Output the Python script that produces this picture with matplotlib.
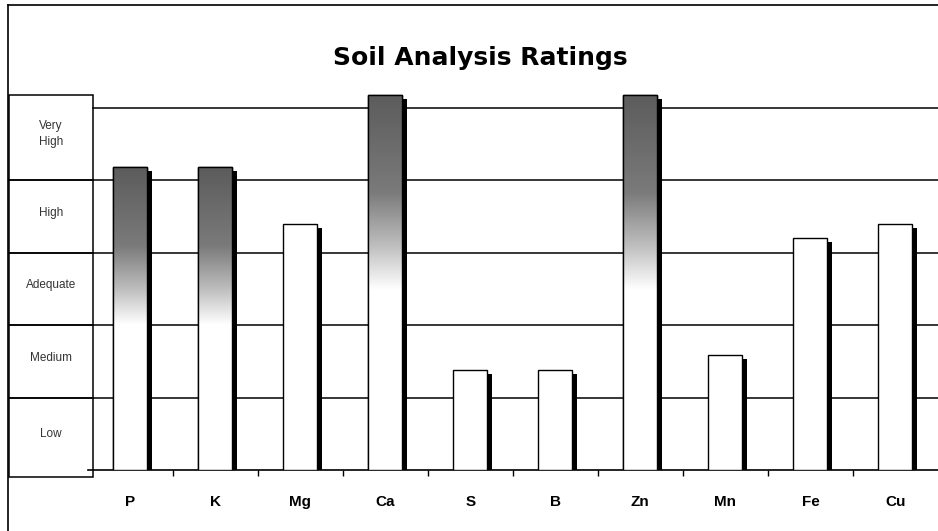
import numpy as np
import matplotlib
matplotlib.use("Agg")
from matplotlib import pyplot as plt
from matplotlib.patches import Rectangle
import matplotlib.transforms as mtransforms
from matplotlib.colors import LinearSegmentedColormap

# data (rating scale 0-5, 1 unit per band)
nutrients = ["P", "K", "Mg", "Ca", "S", "B", "Zn", "Mn", "Fe", "Cu"]
ratings = [4.18, 4.18, 3.40, 5.18, 1.38, 1.38, 5.18, 1.59, 3.20, 3.40]
shaded = ["P", "K", "Ca", "Zn"]
levels = ["Low", "Medium", "Adequate", "High", "Very\nHigh"]
level_edges = [-0.10, 1, 2, 3, 4, 5.18]

W, H = 938, 531
fig = plt.figure(figsize=(W / 100, H / 100), dpi=100)

# main axes: 0 at y=470px, 5 at y=108px
unit = (470 - 108) / 5.0
ymax = 5.35
bottom_px, top_px = 470, 470 - ymax * unit
left_px, right_px = 87.5, 938
ax = fig.add_axes([left_px / W, 1 - bottom_px / H, (right_px - left_px) / W, (bottom_px - top_px) / H])
ax.set_xlim(-0.5, len(nutrients) - 0.5)
ax.set_ylim(0, ymax)
for s in ["top", "right", "left"]:
    ax.spines[s].set_visible(False)
ax.spines["bottom"].set_linewidth(1.2)
ax.set_yticks([])

# horizontal band lines
x0 = (93 - left_px) / (right_px - left_px)
for lv in range(1, 6):
    ax.axhline(lv, xmin=x0, xmax=1, color="black", lw=1.1, zorder=1)

x = np.arange(len(nutrients))
vals = np.array(ratings)
bw = 0.40
# drop shadows
ax.bar(x + 0.058, vals - 0.055, width=bw, color="black", zorder=2)
bars = ax.bar(x, vals, width=bw, color="white", edgecolor="black", lw=1.0, zorder=3)

cmap = LinearSegmentedColormap.from_list(
    "fade", [(0.0, (1, 1, 1)), (0.48, (1, 1, 1)), (0.6, (0.74, 0.74, 0.74)),
             (0.74, (0.48, 0.48, 0.48)), (1.0, (0.36, 0.36, 0.36))])
grad = np.linspace(0, 1, 256).reshape(-1, 1)
for name, b, v, xi in zip(nutrients, bars, vals, x):
    if name in shaded:
        im = ax.imshow(grad, cmap=cmap, vmin=0, vmax=1, origin="lower", aspect="auto",
                       extent=[xi - bw / 2, xi + bw / 2, 0, v], zorder=3.5)
        im.set_clip_path(b)
        ax.add_patch(Rectangle((xi - bw / 2, 0), bw, v, fill=False, ec="black", lw=1.0, zorder=4))
ax.set_xlim(-0.5, len(nutrients) - 0.5)
ax.set_ylim(0, ymax)

ax.set_xticks(x)
ax.set_xticklabels(nutrients, fontfamily="Liberation Sans", fontweight="bold", fontsize=11)
ax.tick_params(axis="x", length=0, pad=18)
ax.set_xticks(x[:-1] + 0.5, minor=True)
ax.tick_params(axis="x", which="minor", length=4, width=1, direction="out")

# rating boxes on the left
trans = mtransforms.blended_transform_factory(fig.transFigure, ax.transData)
bx0, bx1 = 9 / W, 93 / W
for i, lab in enumerate(levels):
    y0, y1 = level_edges[i], level_edges[i + 1]
    ax.add_patch(Rectangle((bx0, y0), bx1 - bx0, y1 - y0, transform=trans, fill=False,
                           ec="black", lw=1.1, clip_on=False, zorder=5))
    ax.text((bx0 + bx1) / 2, (y0 + y1) / 2 + 0.05, lab, transform=trans, ha="center", va="center",
            fontsize=8.5, color="#333333", fontfamily="Liberation Sans", linespacing=1.4)

# outer frame
fig.add_artist(plt.Line2D([8 / W, 1], [1 - 5 / H, 1 - 5 / H], color="black", lw=1.2))
fig.add_artist(plt.Line2D([8 / W, 8 / W], [0, 1 - 5 / H], color="black", lw=1.2))

fig.text(480 / W, 1 - 58 / H, "Soil Analysis Ratings", ha="center", va="center",
         fontsize=18, fontweight="bold", fontfamily="DejaVu Sans")

fig.savefig("out.png", dpi=100)
